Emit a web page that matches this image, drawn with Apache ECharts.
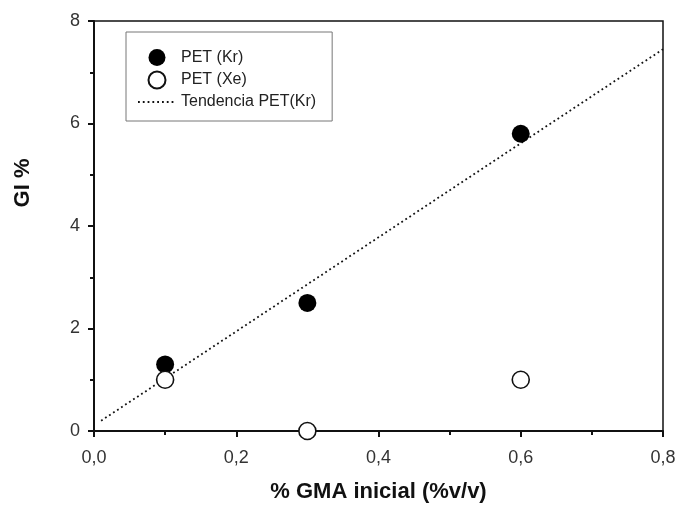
<!DOCTYPE html>
<html><head><meta charset="utf-8">
<script src="https://cdn.jsdelivr.net/npm/echarts@6/dist/echarts.min.js"></script>
<style>html,body{margin:0;padding:0;background:#fff}#c{width:679px;height:508px}</style>
</head><body><div id="c"></div>
<script>
const xKr = [0.1, 0.3, 0.6];
const yKr = [1.3, 2.5, 5.8];
const xXe = [0.1, 0.3, 0.6];
const yXe = [1.0, 0.0, 1.0];
const trendX = [0.01, 0.8];
const trendY = [0.2, 7.45];
const seriesNames = ['PET (Kr)', 'PET (Xe)', 'Tendencia PET(Kr)'];
const xName = '% GMA inicial (%v/v)';
const yName = 'GI %';

const zip = (a, b) => a.map((v, i) => [v, b[i]]);
const font = 'Liberation Sans, Arial, sans-serif';
const chart = echarts.init(document.getElementById('c'), null, {renderer: 'canvas'});
chart.setOption({
  animation: false,
  backgroundColor: '#fff',
  grid: {left: 94, right: 16, top: 21, bottom: 77, show: true, borderColor: '#111', borderWidth: 1.5},
  legend: {
    orient: 'vertical', left: 126, top: 32,
    padding: [17, 16, 11, 11],
    itemWidth: 38, itemHeight: 17, itemGap: 4.5,
    borderColor: '#777', borderWidth: 1,
    textStyle: {fontFamily: font, fontSize: 16, color: '#222'},
    data: [
      {name: seriesNames[0]},
      {name: seriesNames[1]},
      {name: seriesNames[2], itemStyle: {opacity: 0}}
    ]
  },
  xAxis: {
    type: 'value', min: 0, max: 0.8, interval: 0.2,
    name: xName, nameLocation: 'middle', nameGap: 50,
    nameTextStyle: {fontFamily: font, fontSize: 22, fontWeight: 'bold', color: '#111'},
    axisLine: {show: true, lineStyle: {color: '#111', width: 2}},
    axisTick: {show: true, length: 6, lineStyle: {color: '#111', width: 2}},
    minorTick: {show: true, splitNumber: 2, length: 4, lineStyle: {color: '#111', width: 2}},
    splitLine: {show: false},
    axisLabel: {fontFamily: font, fontSize: 18, color: '#333', margin: 18,
      formatter: v => v.toFixed(1).replace('.', ',')}
  },
  yAxis: {
    type: 'value', min: 0, max: 8, interval: 2,
    name: yName, nameLocation: 'middle', nameGap: 60,
    nameTextStyle: {fontFamily: font, fontSize: 22, fontWeight: 'bold', color: '#111', padding: [0, 0, 0, 86]},
    axisLine: {show: true, lineStyle: {color: '#111', width: 2}},
    axisTick: {show: true, length: 6, lineStyle: {color: '#111', width: 2}},
    minorTick: {show: true, splitNumber: 2, length: 4, lineStyle: {color: '#111', width: 2}},
    splitLine: {show: false},
    axisLabel: {fontFamily: font, fontSize: 18, color: '#333', margin: 14}
  },
  series: [
    {
      name: seriesNames[2], type: 'line', data: zip(trendX, trendY),
      symbol: 'none', symbolSize: 0, z: 1,
      lineStyle: {color: '#111', width: 1.8, type: [1.8, 3]},
      itemStyle: {color: '#111'}
    },
    {
      name: seriesNames[0], type: 'scatter', data: zip(xKr, yKr),
      symbol: 'circle', symbolSize: 18, z: 3,
      itemStyle: {color: '#000', opacity: 1}
    },
    {
      name: seriesNames[1], type: 'scatter', data: zip(xXe, yXe),
      symbol: 'circle', symbolSize: 17, z: 3,
      itemStyle: {color: '#fff', borderColor: '#111', borderWidth: 1.6, opacity: 1}
    }
  ]
});
</script></body></html>
